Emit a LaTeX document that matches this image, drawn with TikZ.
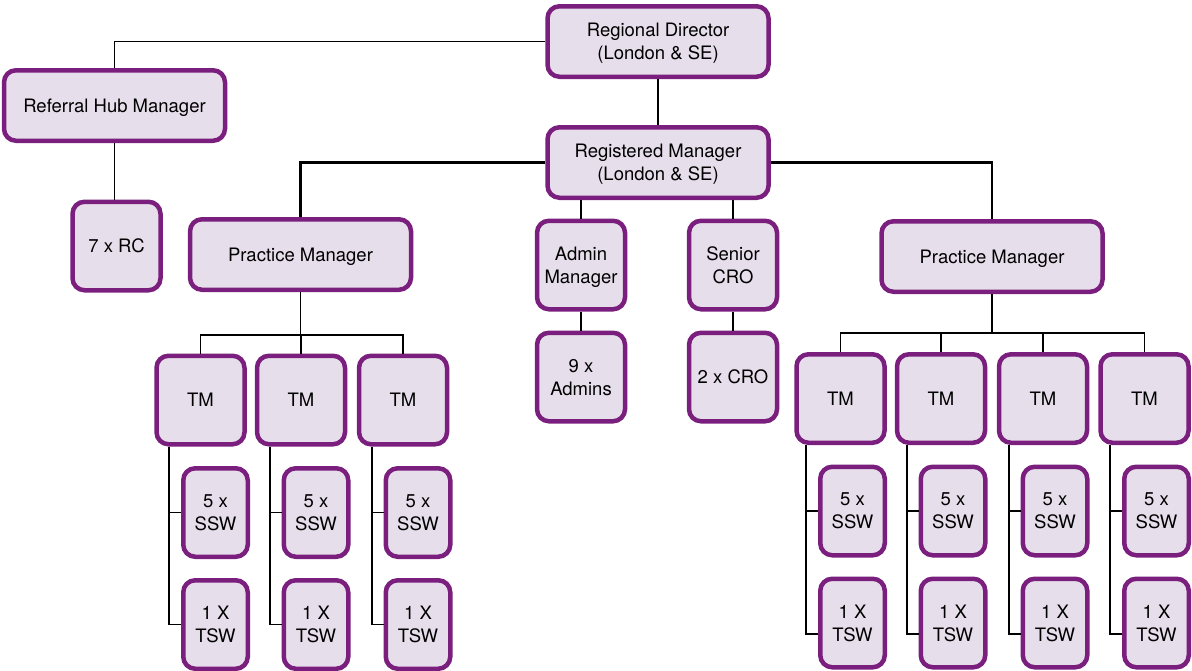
\documentclass[tikz,border=0pt]{standalone}
\usepackage{fontspec}
\setmainfont{TeX Gyre Heros}
\usetikzlibrary{positioning}

\definecolor{Org_purple}{RGB}{123,31,126}
\definecolor{Org_fill}{RGB}{231,222,235}

\tikzset{
    orgbox/.style={draw=Org_purple, fill=Org_fill, line width=2.25pt, rounded corners=6pt,
        align=center, inner sep=0pt, text depth=0pt, font=\fontsize{9.25}{11.5}\selectfont},
    bigbox/.style={orgbox, minimum width=110.5pt, minimum height=35.25pt},
    squarebox/.style={orgbox, minimum width=44pt, minimum height=44.25pt},
    slimbox/.style={orgbox, minimum width=32.25pt, minimum height=44.25pt},
    link/.style={draw=black, line width=0.8pt},
    thicklink/.style={link, line width=1.25pt}
}

\begin{document}
\begin{tikzpicture}[x=0.5pt,y=-0.5pt]
    \useasboundingbox (0,0) rectangle (1192,670);

    % Leitung oben
    \node[bigbox] (director) at (658,41.5) {Regional Director\\(London \& SE)};
    \node[bigbox] (registered) at (658,162.5) {Registered Manager\\(London \& SE)};
    \node[bigbox] (hub) at (114.5,105.5) {Referral Hub Manager};
    \node[squarebox] (rc) at (116.5,246) {7 x RC};

    % Practice Manager
    \node[bigbox] (pmL) at (300.5,254.5) {Practice Manager};
    \node[bigbox] (pmR) at (992,256.5) {Practice Manager};

    % Admin und CRO
    \node[squarebox] (admin) at (581,265) {Admin\\Manager};
    \node[squarebox] (admins) at (581,377) {9 x\\Admins};
    \node[squarebox] (senior) at (733,265) {Senior\\CRO};
    \node[squarebox] (cro) at (733,377) {2 x CRO};

    % Teams links (3 TM)
    \foreach \i/\x in {1/200.5,2/301,3/403} {
        \node[squarebox] (tmL\i) at (\x,400) {TM};
        \node[slimbox] (sswL\i) at (\x+15,512.5) {5 x\\SSW};
        \node[slimbox] (tswL\i) at (\x+15,624.5) {1 X\\TSW};
    }

    % Teams rechts (4 TM)
    \foreach \i/\x in {1/840.5,2/941,3/1043,4/1144.5} {
        \node[squarebox] (tmR\i) at (\x,398.5) {TM};
        \node[slimbox] (sswR\i) at (\x+12,511) {5 x\\SSW};
        \node[slimbox] (tswR\i) at (\x+12,623) {1 X\\TSW};
    }

    % Verbindungen oben
    \draw[link] (director.west) -| (hub.north);
    \draw[link] (director.south) -- (registered.north);
    \draw[link] (hub.south) -- (hub.south |- rc.north);
    \draw[thicklink] (registered.west) -| (pmL.north);
    \draw[thicklink] (registered.east) -| (pmR.north);
    \draw[link] (admin.north |- registered.south) -- (admin.north);
    \draw[link] (admin.south) -- (admins.north);
    \draw[link] (senior.north |- registered.south) -- (senior.north);
    \draw[link] (senior.south) -- (cro.north);

    % Verbindungen Teams links
    \coordinate (busL) at (0,335);
    \foreach \i in {1,2,3} {
        \draw[link] (pmL.south) -- (pmL.south |- busL) -- (tmL\i.north |- busL) -- (tmL\i.north);
        \draw[link] ([xshift=7.5pt]tmL\i.south west) |- (sswL\i.west);
        \draw[link] ([xshift=7.5pt]tmL\i.south west) |- (tswL\i.west);
    }

    % Verbindungen Teams rechts
    \coordinate (busR) at (0,333);
    \foreach \i in {1,2,3,4} {
        \draw[link] (pmR.south) -- (pmR.south |- busR) -- (tmR\i.north |- busR) -- (tmR\i.north);
        \draw[link] ([xshift=6pt]tmR\i.south west) |- (sswR\i.west);
        \draw[link] ([xshift=6pt]tmR\i.south west) |- ([yshift=-5.5pt]tswR\i.west);
    }

\end{tikzpicture}
\end{document}
